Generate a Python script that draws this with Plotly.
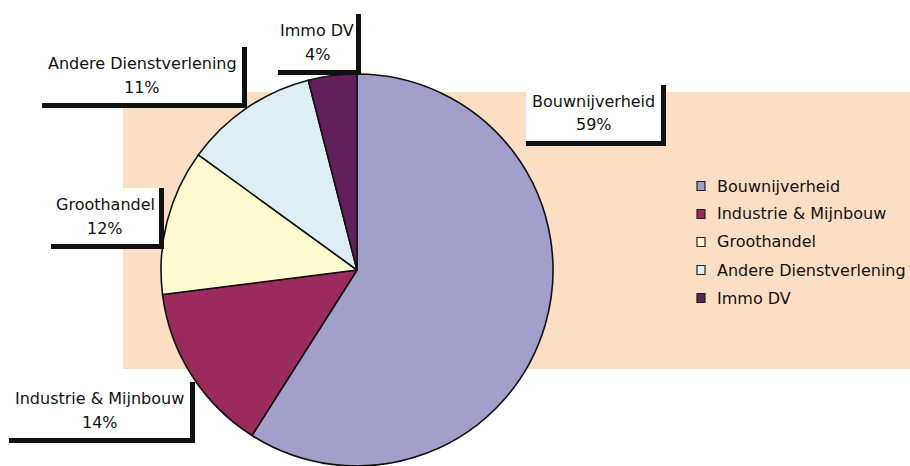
import plotly.graph_objects as go

W, H = 910, 466

categories = ["Bouwnijverheid", "Industrie & Mijnbouw", "Groothandel",
              "Andere Dienstverlening", "Immo DV"]
values = [59, 14, 12, 11, 4]
pct_labels = ["59%", "14%", "12%", "11%", "4%"]
colors = ["#A39FCB", "#9B2A5D", "#FFFBD1", "#DDEEF5", "#631F5B"]

FONT = "DejaVu Sans"
TXT = "#111111"


def px(x):
    return x / W


def py(y):
    return 1 - y / H


fig = go.Figure()

# pie: centre (357, 270), radius 196
cx, cy, r = 357, 270, 196
fig.add_trace(go.Pie(
    labels=categories,
    values=values,
    sort=False,
    direction="clockwise",
    rotation=0,
    textinfo="none",
    hoverinfo="label+percent",
    marker=dict(colors=colors, line=dict(color="#111111", width=1.6)),
    domain=dict(x=[px(cx - r), px(cx + r)], y=[max(0, py(cy + r)), py(cy - r)]),
    showlegend=False,
))

shapes = []
annotations = []

# peach plot-area background
shapes.append(dict(type="rect", xref="paper", yref="paper",
                   x0=px(123), x1=px(910), y0=py(369), y1=py(92),
                   fillcolor="#FCDEC4", line=dict(width=0), layer="below"))

# data label boxes: (left, top, right, bottom) of white area
label_boxes = {
    "Bouwnijverheid": (526, 85, 661, 141),
    "Industrie & Mijnbouw": (9, 382, 190, 438),
    "Groothandel": (51, 188, 159, 244),
    "Andere Dienstverlening": (42, 47, 242, 103),
    "Immo DV": (278, 14, 356, 70),
}
for name, pct in zip(categories, pct_labels):
    l, t, rr, b = label_boxes[name]
    shapes.append(dict(type="rect", xref="paper", yref="paper",
                       x0=px(l), x1=px(rr + 5), y0=py(b + 5), y1=py(t),
                       fillcolor="#111111", line=dict(width=0), layer="above"))
    shapes.append(dict(type="rect", xref="paper", yref="paper",
                       x0=px(l), x1=px(rr), y0=py(b), y1=py(t),
                       fillcolor="white", line=dict(width=0), layer="above"))
    mx = (l + rr) / 2
    my = (t + b) / 2
    annotations.append(dict(x=px(mx), y=py(my - 11.5), xref="paper", yref="paper",
                            text=name, showarrow=False, xanchor="center", yanchor="middle",
                            font=dict(family=FONT, size=16, color=TXT)))
    annotations.append(dict(x=px(mx), y=py(my + 12), xref="paper", yref="paper",
                            text=pct, showarrow=False, xanchor="center", yanchor="middle",
                            font=dict(family=FONT, size=16, color=TXT)))

# legend (built from the categories / colours)
leg_x, leg_y0, leg_dy = 697, 186, 28
for i, (name, col) in enumerate(zip(categories, colors)):
    yc = leg_y0 + i * leg_dy
    shapes.append(dict(type="rect", xref="paper", yref="paper",
                       x0=px(leg_x), x1=px(leg_x + 8), y0=py(yc + 4.5), y1=py(yc - 4.5),
                       fillcolor=col, line=dict(color="#222222", width=1.2), layer="above"))
    annotations.append(dict(x=px(715), y=py(yc), xref="paper", yref="paper",
                            text=name, showarrow=False, xanchor="left", yanchor="middle",
                            font=dict(family=FONT, size=16, color=TXT)))

fig.update_layout(
    width=W, height=H,
    margin=dict(l=0, r=0, t=0, b=0),
    paper_bgcolor="white",
    plot_bgcolor="white",
    showlegend=False,
    shapes=shapes,
    annotations=annotations,
    font=dict(family=FONT),
)

fig.write_html(
    "out.html",
    config={"displayModeBar": False},
    post_script="document.body.style.margin='0';document.body.style.overflow='hidden';",
)
